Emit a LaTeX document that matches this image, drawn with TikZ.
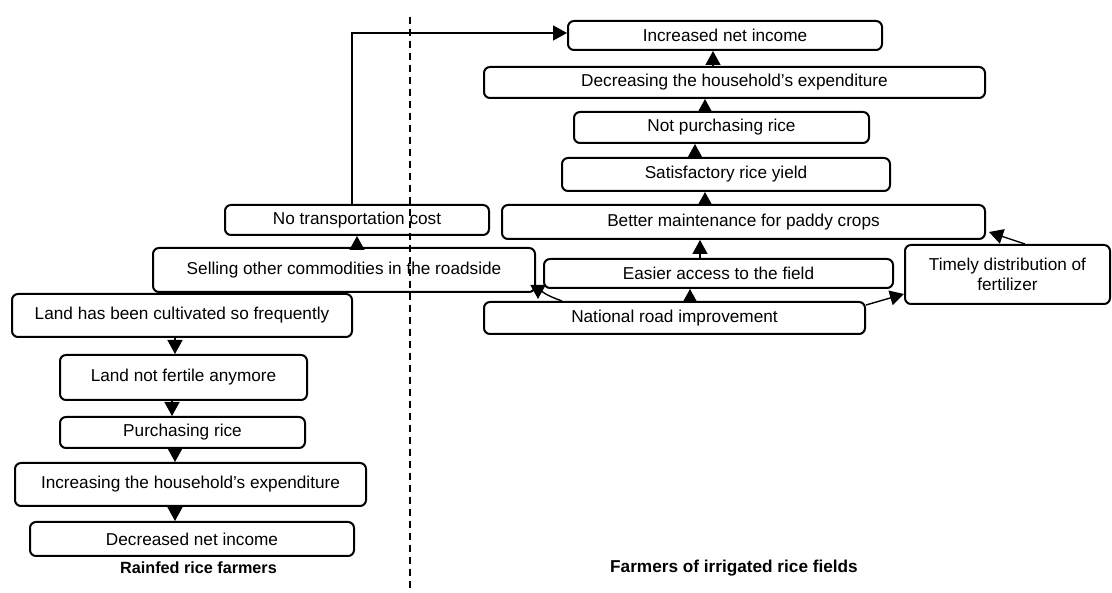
\documentclass[tikz,border=0pt]{standalone}
\usepackage{fontspec}
\setmainfont{Liberation Sans}
\usetikzlibrary{arrows.meta}
\begin{document}
\begin{tikzpicture}[x=1pt,y=-1pt,
  box/.style={draw, line width=2pt, rounded corners=6pt, inner sep=0pt,
    align=center, font=\fontsize{17.2}{20}\selectfont},
  arr/.style={line width=1.4pt, -{Triangle[width=15pt,length=14pt]}},
  divider/.style={line width=1.3pt, dash pattern=on 7pt off 5pt},
  lbl/.style={font=\bfseries\fontsize{16.2}{19}\selectfont}]
\useasboundingbox[fill=white] (0,0) rectangle (1112,593);

% irrigated side
\node[box, minimum width=314pt, minimum height=29pt] (inc) at (725,35.5) {Increased net income};
\node[box, minimum width=501pt, minimum height=31pt] (dec) at (734.5,82.5) {Decreasing the household’s expenditure};
\node[box, minimum width=295pt, minimum height=31pt] (notp) at (721.5,127.5) {Not purchasing rice};
\node[box, minimum width=328pt, minimum height=33pt] (sat) at (726,174.5) {Satisfactory rice yield};
\node[box, minimum width=483pt, minimum height=34pt] (better) at (743.5,222) {Better maintenance for paddy crops};
\node[box, minimum width=349pt, minimum height=29pt] (easier) at (718.5,273.5) {Easier access to the field};
\node[box, minimum width=381pt, minimum height=32pt] (nr) at (674.5,318) {National road improvement};
\node[box, minimum width=205pt, minimum height=59pt] (timely) at (1007.5,274.5) {Timely distribution of\\fertilizer};
\node[box, minimum width=264pt, minimum height=30pt] (notrans) at (357,220) {No transportation cost};
\node[box, minimum width=382pt, minimum height=44pt] (sell) at (344,270) {Selling other commodities in the roadside};

% rainfed side
\node[box, minimum width=340pt, minimum height=43pt] (land) at (182,315.5) {Land has been cultivated so frequently};
\node[box, minimum width=247pt, minimum height=45pt] (notfert) at (183.5,377.5) {Land not fertile anymore};
\node[box, minimum width=245pt, minimum height=31pt] (purch) at (182.5,432.5) {Purchasing rice};
\node[box, minimum width=351pt, minimum height=43pt] (incr) at (190.5,484.5) {Increasing the household’s expenditure};
\node[box, minimum width=324pt, minimum height=34pt] (decr) at (192,539) {Decreased net income};

% group captions
\node[lbl] (rainfed) at (198.5,568) {Rainfed rice farmers};
\node[lbl, font=\bfseries\fontsize{17.2}{20}\selectfont] (irrig) at (734,568) {Farmers of irrigated rice fields};

% dividing line
\coordinate (dtop) at (410,17);
\coordinate (dbot) at (410,593);
\draw[divider] (dtop) -- (dbot);

% rainfed chain
\draw[arr] ([xshift=-7pt]land.south) -- ([xshift=-8.5pt]notfert.north);
\draw[arr] ([xshift=-11.5pt]notfert.south) -- ([xshift=-10.5pt]purch.north);
\draw[arr] ([xshift=-7.5pt]purch.south) -- ([xshift=-15.5pt]incr.north);
\draw[arr] ([xshift=-15.5pt]incr.south) -- ([xshift=-17pt]decr.north);

% irrigated chain
\draw[arr] ([xshift=15.5pt]nr.north) -- ([xshift=-28.5pt]easier.south);
\draw[arr] ([xshift=-18.5pt]easier.north) -- ([xshift=-43.5pt]better.south);
\draw[arr] ([xshift=-38.5pt]better.north) -- ([xshift=-21pt]sat.south);
\draw[arr] ([xshift=-31pt]sat.north) -- ([xshift=-26.5pt]notp.south);
\draw[arr] ([xshift=-16.5pt]notp.north) -- ([xshift=-29.5pt]dec.south);
\draw[arr] ([xshift=-21.5pt]dec.north) -- ([xshift=-12pt]inc.south);

% side links
\draw[arr] ([xshift=13pt]sell.north) -- (notrans.south);
\draw[arr] ([xshift=-5pt]notrans.north) |- ([yshift=2.5pt]inc.west);
\draw[arr] ([xshift=-112.5pt]nr.north) .. controls +(-14,-5) and +(0,-8) .. ([shift={(2pt,-6pt)}]sell.south east);
\draw[arr] ([yshift=13pt]nr.east) -- ([yshift=-19.5pt]timely.west);
\draw[arr] ([xshift=17.5pt]timely.north) -- ([shift={(3pt,-10pt)}]better.east);
\end{tikzpicture}
\end{document}
